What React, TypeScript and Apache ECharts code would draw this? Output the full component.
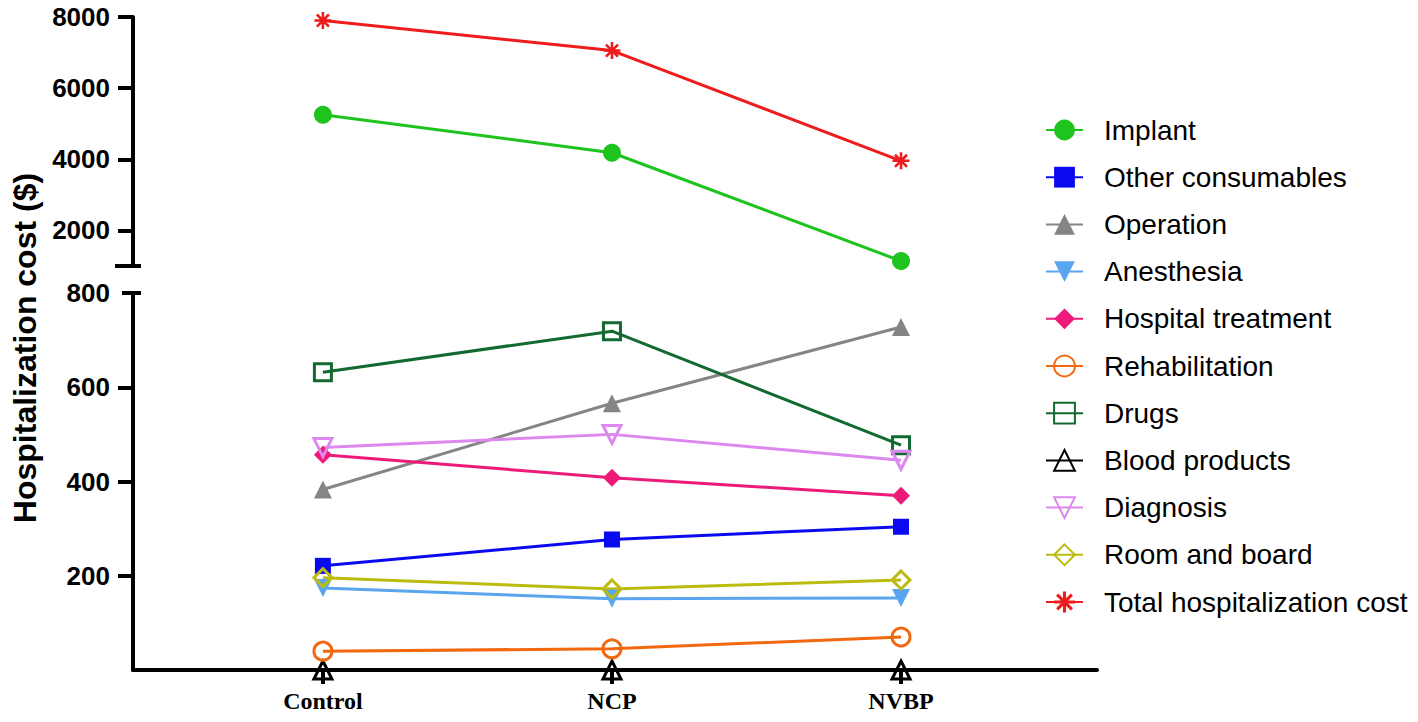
import React, { useEffect, useRef } from "react";
import * as echarts from "echarts";

const categories = ["Control", "NCP", "NVBP"];
const topTickValues = [2000, 4000, 6000, 8000];
const bottomTickValues = [200, 400, 600];
const bottomLabelValues = [200, 400, 600, 800];

const implant = [5254, 4183, 1141];
const totalCost = [7901, 7056, 3958];
const otherConsumables = [221, 277, 304];
const operation = [383, 566, 728];
const anesthesia = [174, 151, 153];
const hospitalTreatment = [457, 408, 370];
const rehabilitation = [40, 45, 70];
const drugs = [632, 719, 477];
const bloodProducts = [0, 0, 0];
const diagnosis = [472, 500, 445];
const roomAndBoard = [196, 172, 191];

const ASTERISK =
  "path://M-1.5,-10L1.5,-10L1.5,10L-1.5,10Z M-10,-1.5L10,-1.5L10,1.5L-10,1.5Z M6.01,-8.13L8.13,-6.01L-6.01,8.13L-8.13,6.01Z M-8.13,-6.01L-6.01,-8.13L8.13,6.01L6.01,8.13Z";

const toPairs = (arr: number[]) => arr.map((v, i) => [i, v]);

type Def = {
  name: string;
  data: number[];
  color: string;
  symbol: string;
  size: number;
  hollow?: boolean;
  rotate?: number;
  top?: boolean;
};

const defs: Def[] = [
  { name: "Implant", data: implant, color: "#1ec31e", symbol: "circle", size: 18, top: true },
  { name: "Other consumables", data: otherConsumables, color: "#0a0af0", symbol: "rect", size: 16 },
  { name: "Operation", data: operation, color: "#858585", symbol: "triangle", size: 18 },
  { name: "Anesthesia", data: anesthesia, color: "#5aa5f0", symbol: "triangle", size: 18, rotate: 180 },
  { name: "Hospital treatment", data: hospitalTreatment, color: "#ee1a7a", symbol: "diamond", size: 18 },
  { name: "Rehabilitation", data: rehabilitation, color: "#f2680f", symbol: "circle", size: 18, hollow: true },
  { name: "Drugs", data: drugs, color: "#126a30", symbol: "rect", size: 17, hollow: true },
  { name: "Blood products", data: bloodProducts, color: "#000000", symbol: "triangle", size: 18, hollow: true },
  { name: "Diagnosis", data: diagnosis, color: "#dd88ee", symbol: "triangle", size: 18, hollow: true, rotate: 180 },
  { name: "Room and board", data: roomAndBoard, color: "#bcbc10", symbol: "diamond", size: 18, hollow: true },
  { name: "Total hospitalization cost", data: totalCost, color: "#ee1c1c", symbol: ASTERISK, size: 17, top: true },
];

export default function App() {
  const ref = useRef<HTMLDivElement>(null);
  useEffect(() => {
    if (!ref.current) return;
    const chart = echarts.init(ref.current, undefined, { renderer: "svg" });
    const axisFont = {
      fontFamily: "Liberation Sans, Arial, sans-serif",
      fontWeight: "bold" as const,
      fontSize: 26,
      color: "#000",
      formatter: (v: number) => String(v),
    };
    const xMin = -0.657;
    const xMax = 2.678;
    const series = defs.map((d) => ({
      name: d.name,
      type: "line",
      xAxisIndex: d.top ? 0 : 1,
      yAxisIndex: d.top ? 0 : 1,
      data: toPairs(d.data),
      symbol: d.symbol,
      symbolSize: d.size,
      symbolRotate: d.rotate || 0,
      showSymbol: true,
      clip: false,
      lineStyle: { color: d.color, width: 3 },
      itemStyle: d.hollow
        ? { color: "rgba(255,255,255,0)", borderColor: d.color, borderWidth: 3 }
        : { color: d.color, borderWidth: 0 },
      z: d.name === "Blood products" ? 1 : 3,
    }));
    chart.setOption({
      animation: false,
      backgroundColor: "#fff",
      grid: [
        { left: 133, top: 17, width: 964, height: 249 },
        { left: 133, top: 293, width: 964, height: 377 },
      ],
      xAxis: [
        { type: "value", gridIndex: 0, min: xMin, max: xMax, show: false },
        {
          type: "value",
          gridIndex: 1,
          min: xMin,
          max: xMax,
          splitLine: { show: false },
          axisLine: { show: true, onZero: false, lineStyle: { color: "#000", width: 4 } },
          axisTick: { show: true, customValues: [0, 1, 2], length: 14, lineStyle: { color: "#000", width: 4 } },
          axisLabel: {
            customValues: [0, 1, 2],
            formatter: (v: number) => categories[Math.round(v)] ?? "",
            fontFamily: "Liberation Serif, Times New Roman, serif",
            fontWeight: "bold",
            fontSize: 24,
            color: "#000",
            margin: 19,
          },
        },
      ],
      yAxis: [
        {
          type: "value",
          gridIndex: 0,
          min: 1000,
          max: 8000,
          splitLine: { show: false },
          axisLine: { show: true, onZero: false, lineStyle: { color: "#000", width: 4 } },
          axisTick: { show: true, customValues: topTickValues, length: 15, lineStyle: { color: "#000", width: 4 } },
          axisLabel: { customValues: topTickValues, margin: 23, ...axisFont },
        },
        {
          type: "value",
          gridIndex: 1,
          min: 0,
          max: 800,
          splitLine: { show: false },
          axisLine: { show: true, onZero: false, lineStyle: { color: "#000", width: 4 } },
          axisTick: { show: true, customValues: bottomTickValues, length: 15, lineStyle: { color: "#000", width: 4 } },
          axisLabel: { customValues: bottomLabelValues, margin: 23, ...axisFont },
        },
      ],
      legend: {
        orient: "vertical",
        left: 1040,
        top: 111,
        itemWidth: 37,
        itemHeight: 26,
        itemGap: 19.2,
        textStyle: {
          fontFamily: "Liberation Sans, Arial, sans-serif",
          fontSize: 28,
          color: "#000",
          padding: [0, 0, 0, 16],
          lineHeight: 28,
        },
        data: defs.map((d) => d.name),
      },
      graphic: [
        {
          type: "text",
          x: 25,
          y: 348,
          rotation: Math.PI / 2,
          style: {
            text: "Hospitalization cost ($)",
            font: "bold 32px 'Liberation Sans', Arial, sans-serif",
            fill: "#000",
            textAlign: "center",
            textVerticalAlign: "middle",
          },
        },
        { type: "line", shape: { x1: 115, y1: 266, x2: 141, y2: 266 }, style: { stroke: "#000", lineWidth: 4 } },
        { type: "line", shape: { x1: 122, y1: 293, x2: 141, y2: 293 }, style: { stroke: "#000", lineWidth: 4 } },
      ],
      series,
    });
    return () => chart.dispose();
  }, []);
  return <div ref={ref} style={{ position: "fixed", left: 0, top: 0, width: 1418, height: 722 }} />;
}
